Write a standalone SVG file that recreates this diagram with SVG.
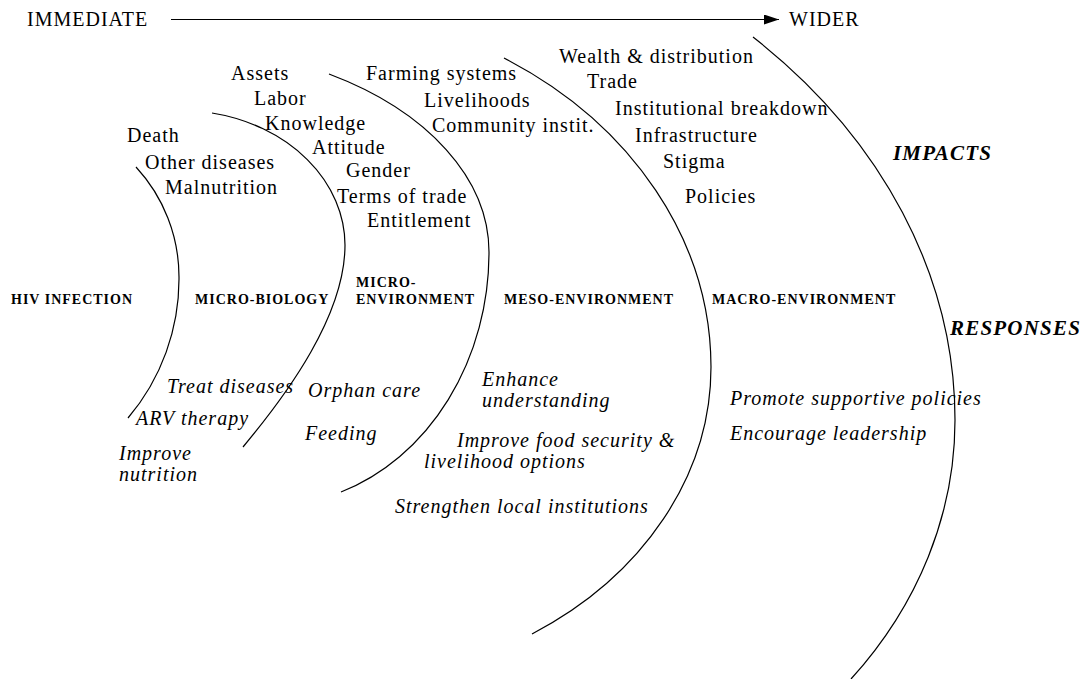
<svg xmlns="http://www.w3.org/2000/svg" width="1083" height="679" viewBox="0 0 1083 679">
<defs>
<style>
text{font-family:"Liberation Serif","Times New Roman",serif;fill:#000}
.r{font-size:20px;letter-spacing:1px}
.i{font-size:20px;font-style:italic;letter-spacing:1px}
.b{font-size:14px;font-weight:bold;letter-spacing:1px}
.bi{font-size:21px;font-weight:bold;font-style:italic;letter-spacing:1.2px}
.arc{fill:none;stroke:#000;stroke-width:1.2}
</style>
<marker id="ah" markerWidth="16" markerHeight="10" refX="15" refY="5" orient="auto" markerUnits="userSpaceOnUse">
<path d="M0,0 L15,5 L0,10 Z" fill="#000"/>
</marker>
</defs>
<rect width="1083" height="679" fill="#fff"/>

<g id="scale">
<text class="r" x="27" y="26">IMMEDIATE</text>
<text class="r" x="789" y="26">WIDER</text>
</g>

<g id="connectors">
<line x1="171" y1="19.5" x2="779" y2="19.5" stroke="#000" stroke-width="1.2" marker-end="url(#ah)"/>
<path id="arc1" class="arc" d="M136,167 A162,162 0 0,1 179,277 A215,215 0 0,1 128,418"/>
<path id="arc2" class="arc" d="M212,113 A165,135 0 0,1 345,245 C345,315 288,393 243,447"/>
<path id="arc3" class="arc" d="M329,74 A326,207 0 0,1 489,252 A218,253 0 0,1 341,492"/>
<path id="arc4" class="arc" d="M504,58 A437,364 0 0,1 711,367 A388,317 0 0,1 532,634"/>
<path id="arc5" class="arc" d="M753,37 A682,539 0 0,1 955,420 A508,427 0 0,1 851,679"/>
</g>

<g id="hiv-infection">
<text class="b" x="11" y="304">HIV INFECTION</text>
</g>

<g id="micro-biology">
<text class="b" x="195" y="304">MICRO-BIOLOGY</text>
<text class="r" x="127" y="142">Death</text>
<text class="r" x="145" y="169">Other diseases</text>
<text class="r" x="165" y="194">Malnutrition</text>
<text class="i" x="167" y="393">Treat diseases</text>
<text class="i" x="136" y="425">ARV therapy</text>
<text class="i" x="119" y="460">Improve</text>
<text class="i" x="119" y="481">nutrition</text>
</g>

<g id="micro-environment">
<text class="b" x="356" y="287">MICRO-</text>
<text class="b" x="356" y="304">ENVIRONMENT</text>
<text class="r" x="231" y="80">Assets</text>
<text class="r" x="254" y="105">Labor</text>
<text class="r" x="265" y="130">Knowledge</text>
<text class="r" x="312" y="154">Attitude</text>
<text class="r" x="346" y="177">Gender</text>
<text class="r" x="337" y="203">Terms of trade</text>
<text class="r" x="367" y="227">Entitlement</text>
<text class="i" x="308" y="397">Orphan care</text>
<text class="i" x="305" y="440">Feeding</text>
</g>

<g id="meso-environment">
<text class="b" x="504" y="304">MESO-ENVIRONMENT</text>
<text class="r" x="366" y="80">Farming systems</text>
<text class="r" x="424" y="107">Livelihoods</text>
<text class="r" x="432" y="132">Community instit.</text>
<text class="i" x="482" y="386">Enhance</text>
<text class="i" x="482" y="407">understanding</text>
<text class="i" x="457" y="447">Improve food security &amp;</text>
<text class="i" x="424" y="468">livelihood options</text>
<text class="i" x="395" y="513">Strengthen local institutions</text>
</g>

<g id="macro-environment">
<text class="b" x="712" y="304">MACRO-ENVIRONMENT</text>
<text class="r" x="559" y="63">Wealth &amp; distribution</text>
<text class="r" x="587" y="88">Trade</text>
<text class="r" x="615" y="115">Institutional breakdown</text>
<text class="r" x="635" y="142">Infrastructure</text>
<text class="r" x="663" y="168">Stigma</text>
<text class="r" x="685" y="203">Policies</text>
<text class="i" x="730" y="405">Promote supportive policies</text>
<text class="i" x="730" y="440">Encourage leadership</text>
</g>

<g id="legend">
<text class="bi" x="893" y="160">IMPACTS</text>
<text class="bi" x="950" y="335">RESPONSES</text>
</g>
</svg>
